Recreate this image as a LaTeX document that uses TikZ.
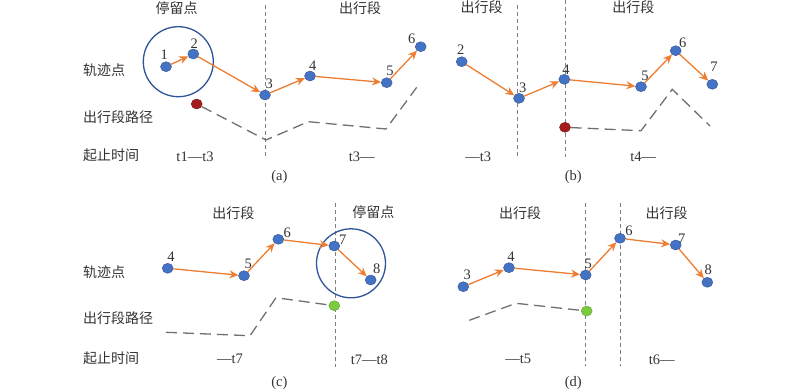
\documentclass[tikz,border=0pt]{standalone}
\usepackage{fontspec}
\setmainfont{Liberation Serif}
\newfontfamily\cjk{Noto Sans CJK SC}
\usetikzlibrary{arrows.meta,shapes.geometric}
\definecolor{dotblue}{HTML}{4472C4}
\definecolor{dotedge}{HTML}{2F528F}
\definecolor{arrorange}{HTML}{ED7D31}
\definecolor{ringblue}{HTML}{2E5597}
\definecolor{dotred}{HTML}{A51C1C}
\definecolor{dotgreen}{HTML}{7CCB3F}
\definecolor{pathgray}{HTML}{707070}
\definecolor{txt}{HTML}{333333}
\tikzset{
  dot/.style={ellipse,fill=dotblue,draw=dotedge,line width=0.4pt,minimum width=11pt,minimum height=10pt,inner sep=0pt},
  reddot/.style={dot,fill=dotred,draw=dotred!70!black},
  greendot/.style={dot,fill=dotgreen,draw=dotgreen!80!black},
  arr/.style={draw=arrorange,line width=1.3pt,-{Stealth[length=9pt,width=8pt,inset=3pt]}},
  ring/.style={circle,draw=ringblue,line width=1.3pt,inner sep=0pt},
  divline/.style={draw=pathgray!90,line width=1pt,dash pattern=on 4pt off 3pt},
  route/.style={draw=pathgray,line width=1.3pt,dash pattern=on 11pt off 6pt},
  cn/.style={font=\cjk\fontsize{14}{16}\selectfont,text=txt,inner sep=0pt},
  cnl/.style={cn,anchor=west},
  num/.style={font=\fontsize{14.5}{16}\selectfont,text=txt,inner sep=0pt},
}
\begin{document}
\begin{tikzpicture}[x=1pt,y=-1pt]
\useasboundingbox (0,0) rectangle (800,391);
% ===== Panel (a) =====
\coordinate (av1) at (265.7,5); \coordinate (av2) at (265.7,158);
\draw[divline] (av1) -- (av2);
\node[cn] (ah1) at (176.7,8.5) {停留点};
\node[cn] (ah2) at (360,8.5) {出行段};
\node[cnl] (al1) at (83,70) {轨迹点};
\node[cnl] (al2) at (83,116.7) {出行段路径};
\node[cnl] (al3) at (83,155.5) {起止时间};
\node[ring,minimum size=70pt] (aring) at (178.3,61.7) {};
\node[dot] (a1) at (166,66.7) {}; \node[num] (a1t) at (164.3,55) {1};
\node[dot] (a2) at (193.3,54) {}; \node[num] (a2t) at (194.3,43.3) {2};
\node[dot] (a3) at (265,95) {}; \node[num] (a3t) at (269.3,83.3) {3};
\node[dot] (a4) at (310,76) {}; \node[num] (a4t) at (312.7,65.7) {4};
\node[dot] (a5) at (386.7,82.7) {}; \node[num] (a5t) at (390,71) {5};
\node[dot] (a6) at (420.7,46.7) {}; \node[num] (a6t) at (411.7,38.3) {6};
\draw[arr] (a1) -- (a2);
\draw[arr] (a2) -- (a3);
\draw[arr] (a3) -- (a4);
\draw[arr] (a4) -- (a5);
\draw[arr] (a5) -- (a6);
\node[reddot] (ar) at (196.7,104) {};
\coordinate (ap1) at (266,140); \coordinate (ap2) at (308.3,121.7);
\coordinate (ap3) at (386,129); \coordinate (ap4) at (416.7,87.3);
\draw[route] (ar) -- (ap1) -- (ap2) -- (ap3) -- (ap4);
\node[num] (at1) at (195,156.7) {t1—t3};
\node[num] (at2) at (361.7,156.7) {t3—};
\node[num] (acap) at (279.3,176.7) {(a)};
% ===== Panel (b) =====
\coordinate (bv1) at (517.7,5); \coordinate (bv2) at (517.7,157);
\coordinate (bv3) at (565,0); \coordinate (bv4) at (565,157);
\draw[divline] (bv1) -- (bv2);
\draw[divline] (bv3) -- (bv4);
\node[cn] (bh1) at (481.7,7.5) {出行段};
\node[cn] (bh2) at (633.3,7.5) {出行段};
\node[dot] (b2) at (461.7,61.7) {}; \node[num] (b2t) at (460.7,50) {2};
\node[dot] (b3) at (519,98.3) {}; \node[num] (b3t) at (522.7,87.3) {3};
\node[dot] (b4) at (564.3,79.3) {}; \node[num] (b4t) at (566,69.3) {4};
\node[dot] (b5) at (641,86.7) {}; \node[num] (b5t) at (645,76) {5};
\node[dot] (b6) at (675.7,50.7) {}; \node[num] (b6t) at (682.7,42.3) {6};
\node[dot] (b7) at (712.3,84.3) {}; \node[num] (b7t) at (714,66.7) {7};
\draw[arr] (b2) -- (b3);
\draw[arr] (b3) -- (b4);
\draw[arr] (b4) -- (b5);
\draw[arr] (b5) -- (b6);
\draw[arr] (b6) -- (b7);
\node[reddot] (br) at (565,127.3) {};
\coordinate (bp1) at (641,130.7); \coordinate (bp2) at (672.3,89.3);
\coordinate (bp3) at (710,126);
\draw[route] (br) -- (bp1) -- (bp2) -- (bp3);
\node[num] (bt1) at (478.3,156.7) {—t3};
\node[num] (bt2) at (643.3,156.7) {t4—};
\node[num] (bcap) at (573.3,176.7) {(b)};
% ===== Panel (c) =====
\coordinate (cv1) at (335.7,203); \coordinate (cv2) at (335.7,367);
\draw[divline] (cv1) -- (cv2);
\node[cn] (ch1) at (233.3,213.3) {出行段};
\node[cn] (ch2) at (373.3,212) {停留点};
\node[cnl] (cl1) at (83,271.7) {轨迹点};
\node[cnl] (cl2) at (83,318.3) {出行段路径};
\node[cnl] (cl3) at (83,358.3) {起止时间};
\node[ring,minimum size=69pt] (cring) at (351,263.3) {};
\node[dot] (c4) at (167.7,268.3) {}; \node[num] (c4t) at (171,256.7) {4};
\node[dot] (c5) at (244,275.7) {}; \node[num] (c5t) at (248.3,264.3) {5};
\node[dot] (c6) at (278.3,239.3) {}; \node[num] (c6t) at (287.3,232.3) {6};
\node[dot] (c7) at (334.3,246) {}; \node[num] (c7t) at (342.7,239.3) {7};
\node[dot] (c8) at (370.7,280) {}; \node[num] (c8t) at (376.7,268.3) {8};
\draw[arr] (c4) -- (c5);
\draw[arr] (c5) -- (c6);
\draw[arr] (c6) -- (c7);
\draw[arr] (c7) -- (c8);
\node[greendot] (cg) at (334.3,305.7) {};
\coordinate (cp1) at (166,332.3); \coordinate (cp2) at (250,335.7);
\coordinate (cp3) at (276,297.7);
\draw[route] (cp1) -- (cp2) -- (cp3) -- (cg);
\node[num] (ct1) at (230,359.3) {—t7};
\node[num] (ct2) at (369.3,359.3) {t7—t8};
\node[num] (ccap) at (279.3,383.3) {(c)};
% ===== Panel (d) =====
\coordinate (dv1) at (585.7,203); \coordinate (dv2) at (585.7,366);
\coordinate (dv3) at (620,203); \coordinate (dv4) at (620,366);
\draw[divline] (dv1) -- (dv2);
\draw[divline] (dv3) -- (dv4);
\node[cn] (dh1) at (520,213.3) {出行段};
\node[cn] (dh2) at (666.7,213.3) {出行段};
\node[dot] (d3) at (463.3,286.7) {}; \node[num] (d3t) at (467.3,275) {3};
\node[dot] (d4) at (509,267.7) {}; \node[num] (d4t) at (511,256.7) {4};
\node[dot] (d5) at (585.7,275) {}; \node[num] (d5t) at (588.3,264) {5};
\node[dot] (d6) at (620,238.3) {}; \node[num] (d6t) at (629,231) {6};
\node[dot] (d7) at (675.7,245) {}; \node[num] (d7t) at (681.7,238.3) {7};
\node[dot] (d8) at (707.3,282.3) {}; \node[num] (d8t) at (708.3,270) {8};
\draw[arr] (d3) -- (d4);
\draw[arr] (d4) -- (d5);
\draw[arr] (d5) -- (d6);
\draw[arr] (d6) -- (d7);
\draw[arr] (d7) -- (d8);
\node[greendot] (dg) at (586.7,311) {};
\coordinate (dp1) at (469.3,320.3); \coordinate (dp2) at (516,303.3);
\draw[route] (dp1) -- (dp2) -- (dg);
\node[num] (dt1) at (518.3,359.3) {—t5};
\node[num] (dt2) at (661.7,359.3) {t6—};
\node[num] (dcap) at (573.3,383.3) {(d)};
\end{tikzpicture}
\end{document}
